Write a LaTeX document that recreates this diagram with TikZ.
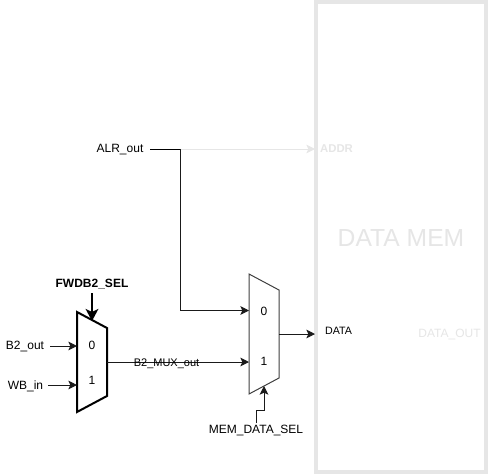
\documentclass[tikz,border=0pt]{standalone}
\usepackage{fontspec}
\setmainfont{Liberation Sans}
\usetikzlibrary{arrows.meta}
\definecolor{faint}{HTML}{E6E6E6}
\definecolor{wire}{HTML}{1A1A1A}
\tikzset{
  x=0.75pt,y=-0.75pt,
  lbl/.style={inner sep=0pt,font=\fontsize{9}{11}\selectfont,text=black},
  faintlbl/.style={inner sep=0pt,font=\fontsize{9}{11}\selectfont,text=faint},
  conn/.style={draw=wire,line width=0.75pt,-{Stealth[length=6.5pt,width=6.5pt,inset=1.5pt]}},
  fconn/.style={draw=faint,line width=0.75pt,-{Stealth[length=6.5pt,width=6.5pt,inset=1.5pt]}},
  thickconn/.style={draw=black,line width=1.5pt,-{Stealth[length=9pt,width=9.5pt,inset=2.2pt]}},
  mux/.style={draw=black!75,line width=0.75pt,line join=miter},
  thickmux/.style={draw=black,line width=1.5pt,line join=miter},
  membox/.style={draw=faint,line width=3pt,fill=white,minimum width=127.5pt,minimum height=352.5pt,inner sep=0pt}
}
\begin{document}
\begin{tikzpicture}
\useasboundingbox (0,0) rectangle (488,475);
% memory block
\node[membox] (mem) at (401,237.25) {};
\node[inner sep=0pt,font=\fontsize{18.5}{20}\selectfont,text=faint] (memlbl) at (401,238) {DATA MEM};
\node[faintlbl,font=\fontsize{8.5}{10}\selectfont\bfseries] (addr) at (336.5,149) {ADDR};
\node[lbl,font=\fontsize{8}{10}\selectfont] (data) at (338.5,331) {DATA};
\node[faintlbl] (dataout) at (449.5,334) {DATA\_OUT};
% mux outlines
\coordinate (ma) at (77,312); \coordinate (mb) at (107,328);
\coordinate (mc) at (107,396); \coordinate (md) at (77,412);
\draw[thickmux,fill=white] (ma) -- (mb) -- (mc) -- (md) -- cycle;
\coordinate (na) at (249,274); \coordinate (nb) at (279,290);
\coordinate (nc) at (279,378); \coordinate (nd) at (249,394);
\draw[mux,fill=white] (na) -- (nb) -- (nc) -- (nd) -- cycle;
\node[lbl] (m0) at (92,345) {0};
\node[lbl] (m1) at (92,380) {1};
\node[lbl] (n0) at (264,311.5) {0};
\node[lbl] (n1) at (264,361.5) {1};
% labels
\node[lbl] (b2) at (25,346) {B2\_out};
\node[lbl] (wb) at (25.5,386) {WB\_in};
\node[lbl,font=\fontsize{9}{11}\selectfont\bfseries] (fwd) at (92,284) {FWDB2\_SEL};
\node[lbl] (alr) at (120,150) {ALR\_out};
\node[lbl] (memsel) at (256,430) {MEM\_DATA\_SEL};
% connector anchors
\coordinate (b2s) at (50,346); \coordinate (b2e) at (77,346);
\coordinate (wbs) at (48,385); \coordinate (wbe) at (77,385);
\coordinate (fwds) at (92,293); \coordinate (fwde) at (92,321);
\coordinate (mout) at (107,362); \coordinate (min1) at (249,362);
\coordinate (nout) at (279,334); \coordinate (din) at (315,334);
\coordinate (alrs) at (150,149); \coordinate (alrj) at (180,149);
\coordinate (min0) at (249,310.5); \coordinate (addrin) at (315,149);
\coordinate (sels) at (256,423); \coordinate (selm) at (256,410);
\coordinate (selj) at (264,410); \coordinate (sele) at (264,386);
% connectors
\draw[conn] (b2s) -- (b2e);
\draw[conn] (wbs) -- (wbe);
\draw[thickconn] (fwds) -- (fwde);
\draw[conn] (mout) -- node[lbl,font=\fontsize{8.25}{10}\selectfont,midway,xshift=-8.6pt,yshift=-1.5pt] (muxlbl) {B2\_MUX\_out} (min1);
\draw[conn] (nout) -- (din);
\draw[fconn] (alrj) -- (addrin);
\draw[draw=black,line width=0.75pt] (alrs) -- (alrj);
\draw[conn] (alrj) |- (min0);
\draw[conn] (sels) -- (selm) -- (selj) -- (sele);
\end{tikzpicture}
\end{document}
